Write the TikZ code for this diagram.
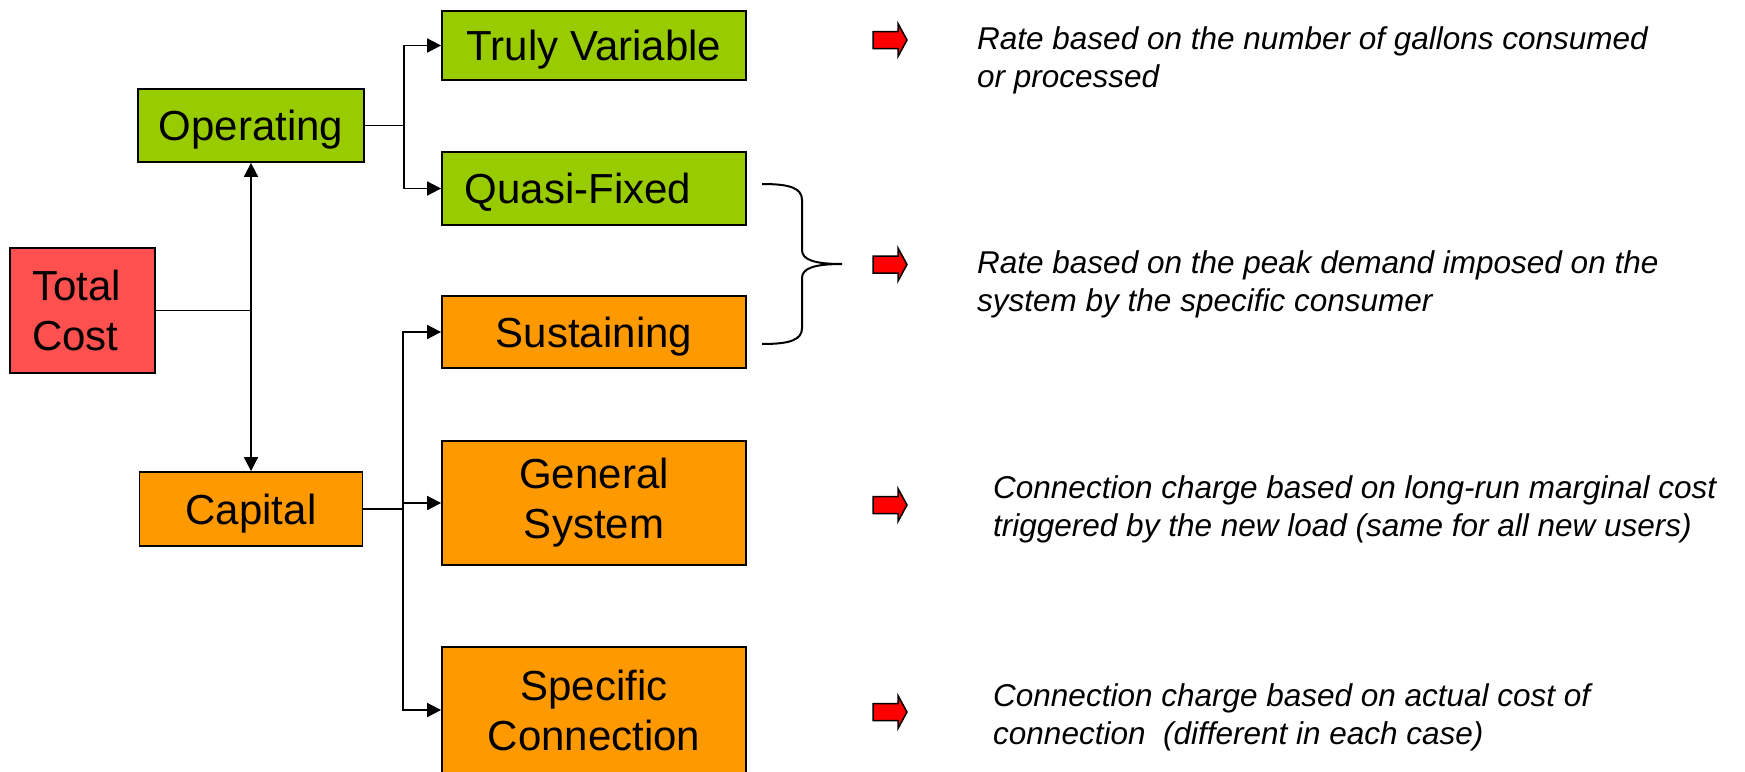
\documentclass[tikz,border=0pt]{standalone}
\usepackage{fontspec}
\setmainfont{Liberation Sans}
\usetikzlibrary{arrows.meta,calc}
\definecolor{gr}{HTML}{99CC00}
\definecolor{orng}{HTML}{FF9900}
\definecolor{rd}{HTML}{FF5050}
\begin{document}
\begin{tikzpicture}[x=1pt,y=-1pt,
 box/.style={draw=black, line width=1.8pt, inner sep=0pt, font=\fontsize{42}{50}\selectfont, align=center},
 oneline/.style={text height=36pt, text depth=6pt},
 conn/.style={line width=1.8pt},
 arr/.style={conn, -{Triangle[length=14pt,width=14pt]}},
 desc/.style={anchor=base west, inner sep=0pt, font=\fontsize{31.5}{38}\selectfont\itshape},
 redarrow/.pic={\draw[fill=red, line width=1.5pt, line join=miter] (-17,-8.5) -- (8,-8.5) -- (8,-16.5) -- (17,0) -- (8,16.5) -- (8,8.5) -- (-17,8.5) -- cycle;}]
\fill[white] (0,0) rectangle (1745,771);
\useasboundingbox (0,0) rectangle (1745,771);

\node[box, fill=rd, minimum width=145pt, minimum height=125pt, text width=101pt, inner xsep=22pt, align=left] (total) at (82.5,310.5) {Total\\Cost};
\node[box, oneline, fill=gr, minimum width=226pt, minimum height=73pt] (oper) at (251,125.5) {Operating};
\node[box, oneline, fill=gr, minimum width=304pt, minimum height=69pt] (truly) at (594,45.5) {Truly Variable};
\node[box, oneline, fill=gr, minimum width=304pt, minimum height=73pt] (quasi) at (594,188.5) {Quasi-Fixed\hspace*{32pt}};
\node[box, oneline, fill=orng, minimum width=304pt, minimum height=72pt] (sust) at (594,332) {Sustaining};
\node[box, oneline, fill=orng, minimum width=223pt, minimum height=74pt] (capital) at (251,509) {Capital};
\node[box, fill=orng, minimum width=304pt, minimum height=124pt] (general) at (594,503) {General\\System};
\node[box, fill=orng, minimum width=304pt, minimum height=126pt] (specific) at (594,710) {Specific\\Connection};

\coordinate (j1) at (251,310.5);
\draw[conn] (total.east) -- (j1);
\draw[arr] (j1) -- (oper.south);
\draw[arr] (j1) -- (capital.north);
\coordinate (j2) at (404,125.5);
\draw[conn] (oper.east) -- (j2);
\draw[arr] (j2) |- (truly.west);
\draw[arr] (j2) |- (quasi.west);
\coordinate (j3) at (403,509);
\draw[conn] (capital.east) -- (j3);
\draw[arr] (j3) |- (sust.west);
\draw[arr] (j3) |- (general.west);
\draw[arr] (j3) |- (specific.west);

\draw[line width=2pt] (762,184) .. controls (790,184) and (802,188) .. (802,200) -- (802,250) .. controls (802,260) and (815,264) .. (842,264) .. controls (815,264) and (802,268) .. (802,278) -- (802,328) .. controls (802,340) and (790,344) .. (762,344);

\pic at (890,40) {redarrow};
\pic at (890,264.5) {redarrow};
\pic at (890,505) {redarrow};
\pic at (890,712) {redarrow};

\node[desc] (d1) at (977,49) {\vtop{\hbox{Rate based on the number of gallons consumed}\hbox{or processed}}};
\node[desc] (d2) at (977,273) {\vtop{\hbox{Rate based on the peak demand imposed on the}\hbox{system by the specific consumer}}};
\node[desc] (d3) at (993,498) {\vtop{\hbox{Connection charge based on long-run marginal cost}\hbox{triggered by the new load (same for all new users)}}};
\node[desc] (d4) at (993,706) {\vtop{\hbox{Connection charge based on actual cost of}\hbox{connection\ \ (different in each case)}}};
\end{tikzpicture}
\end{document}
